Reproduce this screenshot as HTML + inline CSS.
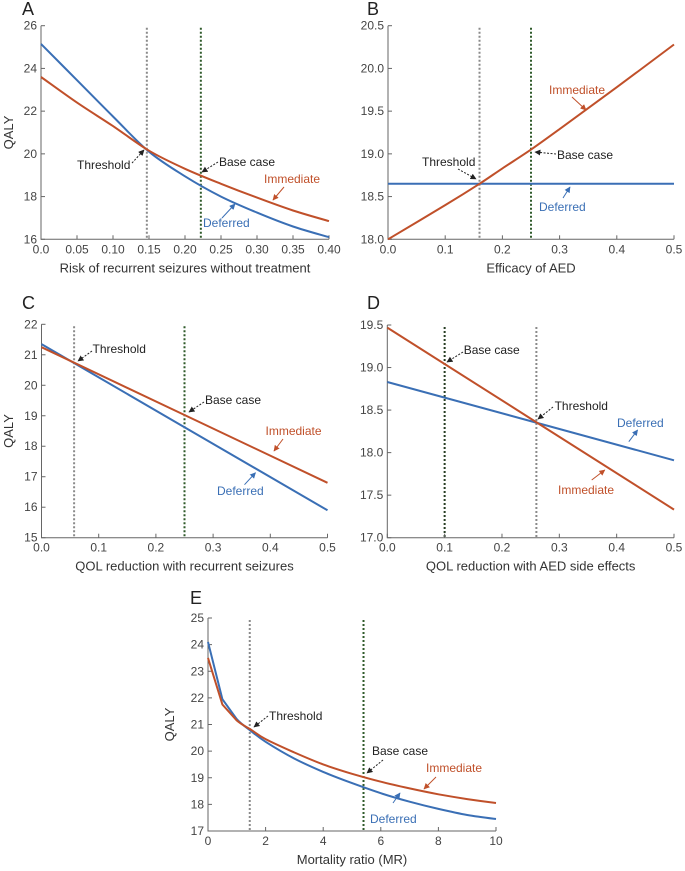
<!DOCTYPE html>
<html><head><meta charset="utf-8"><style>
html,body{margin:0;padding:0;background:#fff}
svg{display:block;font-family:"Liberation Sans",sans-serif}
</style></head><body>
<svg id="fig" width="685" height="871" viewBox="0 0 685 871" xmlns="http://www.w3.org/2000/svg">
<defs>
<marker id="ak" viewBox="0 0 10 10" refX="9" refY="5" markerWidth="6" markerHeight="6" orient="auto"><path d="M0,0L10,5L0,10z" fill="#222"/></marker>
<marker id="ar" viewBox="0 0 10 10" refX="9" refY="5" markerWidth="6" markerHeight="6" orient="auto"><path d="M0,0L10,5L0,10z" fill="#c0502a"/></marker>
<marker id="ab" viewBox="0 0 10 10" refX="9" refY="5" markerWidth="6" markerHeight="6" orient="auto"><path d="M0,0L10,5L0,10z" fill="#3a6fb5"/></marker>
</defs>
</svg>
<script>
// Panel A
const aX = [0,0.05,0.10,0.15,0.20,0.25,0.30,0.35,0.40];
const aDeferred = [25.15,23.45,21.75,20.1,18.95,18.0,17.25,16.6,16.1];
const aImmediate = [23.6,22.4,21.3,20.15,19.3,18.6,17.95,17.35,16.85];
const aXTicks = ["0.0","0.05","0.10","0.15","0.20","0.25","0.30","0.35","0.40"];
const aYTicks = ["16","18","20","22","24","26"];
// Panel B
const bX = [0,0.1,0.16,0.2,0.25,0.3,0.4,0.5];
const bImmediate = [18.0,18.4,18.65,18.83,19.05,19.29,19.78,20.28];
const bDeferred = [18.65,18.65,18.65,18.65,18.65,18.65,18.65,18.65];
const bXTicks = ["0.0","0.1","0.2","0.3","0.4","0.5"];
const bYTicks = ["18.0","18.5","19.0","19.5","20.0","20.5"];
// Panel C
const cX = [0,0.5];
const cDeferred = [21.35,15.9];
const cImmediate = [21.25,16.8];
const cXTicks = ["0.0","0.1","0.2","0.3","0.4","0.5"];
const cYTicks = ["15","16","17","18","19","20","21","22"];
// Panel D
const dX = [0,0.5];
const dDeferred = [18.83,17.91];
const dImmediate = [19.47,17.33];
const dXTicks = ["0.0","0.1","0.2","0.3","0.4","0.5"];
const dYTicks = ["17.0","17.5","18.0","18.5","19.0","19.5"];
// Panel E
const eX = [0,0.5,1,1.5,2,3,4,5,6,7,8,9,10];
const eDeferred = [24.1,21.95,21.2,20.75,20.35,19.72,19.22,18.8,18.42,18.1,17.83,17.6,17.45];
const eImmediate = [23.5,21.75,21.15,20.8,20.45,19.95,19.5,19.15,18.85,18.6,18.38,18.2,18.05];
const eXTicks = ["0","2","4","6","8","10"];
const eYTicks = ["17","18","19","20","21","22","23","24","25"];

const NS="http://www.w3.org/2000/svg";
const svg=document.getElementById('fig');
const BLUE="#3a6fb5", RED="#c0502a";
function mk(tag,attrs,parent){const e=document.createElementNS(NS,tag);for(const k in attrs)e.setAttribute(k,attrs[k]);(parent||svg).appendChild(e);return e;}
function smooth(pts,sharpFirst){
  let d='M'+pts[0][0].toFixed(1)+','+pts[0][1].toFixed(1);
  for(let i=0;i<pts.length-1;i++){
    const p0=pts[Math.max(0,i-1)],p1=pts[i],p2=pts[i+1],p3=pts[Math.min(pts.length-1,i+2)];
    let t=0.5/3;
    if(sharpFirst&&(i===0||i===1)){ d+='L'+p2[0].toFixed(1)+','+p2[1].toFixed(1); continue; }
    const c1=[p1[0]+(p2[0]-p0[0])*t*(i===0?1:1),p1[1]+(p2[1]-p0[1])*t];
    const c2=[p2[0]-(p3[0]-p1[0])*t,p2[1]-(p3[1]-p1[1])*t];
    d+='C'+c1[0].toFixed(1)+','+c1[1].toFixed(1)+' '+c2[0].toFixed(1)+','+c2[1].toFixed(1)+' '+p2[0].toFixed(1)+','+p2[1].toFixed(1);
  }
  return d;
}
function panel(p){
  const g=mk('g',{});
  
  
  const sx=v=>p.l+(v-p.x0)/(p.x1-p.x0)*(p.r-p.l);
  const sy=v=>p.b-(v-p.y0)/(p.y1-p.y0)*(p.b-p.t);
  p.vlines.forEach(v=>{
    const ln=mk('line',{x1:sx(v.x),x2:sx(v.x),y1:p.t+2,y2:p.b,stroke:v.c,'stroke-width':2,'stroke-dasharray':'2,2'},g);
    
    
  });
  const ax=mk('path',{d:`M${p.l},${p.t}V${p.b}H${p.r}`,fill:'none',stroke:'#666','stroke-width':1},g);
  
  
  p.xticks.forEach(t=>{
    const v=parseFloat(t);
    mk('line',{x1:sx(v),x2:sx(v),y1:p.b,y2:p.b-4,stroke:'#666'},g);
    const tx=mk('text',{x:sx(v),y:p.b+14,'text-anchor':'middle','font-size':12,fill:'#444'},g);
    tx.textContent=t;
    
    
  });
  p.yticks.forEach(t=>{
    const v=parseFloat(t);
    mk('line',{x1:p.l,x2:p.l+4,y1:sy(v),y2:sy(v),stroke:'#666'},g);
    const tx=mk('text',{x:p.l-4,y:sy(v)+4,'text-anchor':'end','font-size':12,fill:'#444'},g);
    tx.textContent=t;
    
    
  });
  [[p.xs,p.def,BLUE,'deferred-line'],[p.xs,p.imm,RED,'immediate-line']].forEach(s=>{
    const pts=s[0].map((x,i)=>[sx(x),sy(s[1][i])]);
    const pa=mk('path',{d:smooth(pts,p.sharp),fill:'none',stroke:s[2],'stroke-width':2},g);
    
    
  });
  const xl=mk('text',{x:(p.l+p.r)/2,y:p.b+33,'text-anchor':'middle','font-size':13,fill:'#333'},g);
  xl.textContent=p.xlabel;
  
  
  if(p.ylabelX){
    const yl=mk('text',{x:p.ylabelX,y:(p.t+p.b)/2,'text-anchor':'middle','font-size':13,fill:'#333',transform:`rotate(-90 ${p.ylabelX} ${(p.t+p.b)/2})`},g);
    yl.textContent='QALY';
    
    
  }
  const pl=mk('text',{x:p.letter[0],y:p.letter[1],'font-size':18,fill:'#222'},g);
  pl.textContent=p.id;
  
  
  p.ann.forEach(a=>{
    const col=a.k==='r'?RED:a.k==='b'?BLUE:'#222';
    const t=mk('text',{x:a.tx,y:a.ty,'font-size':12,fill:col},g);
    t.textContent=a.t;
    
    
    const ar=mk('line',{x1:a.a[0],y1:a.a[1],x2:a.a[2],y2:a.a[3],stroke:col,'stroke-width':1,'stroke-dasharray':a.k==='k'?'2,1.5':'none','marker-end':'url(#a'+a.k+')'},g);
    
    
  });
}
const GREY="#8a8a8a", GREEN="#2f5a2a";
panel({id:'A',l:41,r:329,t:25.7,b:239.3,x0:0,x1:0.4,y0:16,y1:26,xs:aX,def:aDeferred,imm:aImmediate,xticks:aXTicks,yticks:aYTicks,
  xlabel:'Risk of recurrent seizures without treatment',ylabelX:13,letter:[22,15],
  vlines:[{x:0.147,c:GREY,n:'threshold-line'},{x:0.222,c:GREEN,n:'base-case-line'}],
  ann:[{t:'Threshold',k:'k',tx:77,ty:169,a:[132,163,144,150]},{t:'Base case',k:'k',tx:219,ty:166,a:[218,162,202,172]},
       {t:'Immediate',k:'r',tx:264,ty:183,a:[284,187,273,200]},{t:'Deferred',k:'b',tx:203,ty:227,a:[222,218,235,204]}]});
panel({id:'B',l:388,r:674,t:25.7,b:239.3,x0:0,x1:0.5,y0:18,y1:20.5,xs:bX,def:bDeferred,imm:bImmediate,xticks:bXTicks,yticks:bYTicks,
  xlabel:'Efficacy of AED',ylabelX:0,letter:[367,15],
  vlines:[{x:0.16,c:GREY,n:'threshold-line'},{x:0.25,c:GREEN,n:'base-case-line'}],
  ann:[{t:'Threshold',k:'k',tx:422,ty:166,a:[458,169,476,179]},{t:'Base case',k:'k',tx:557,ty:159,a:[556,154,535,152]},
       {t:'Immediate',k:'r',tx:549,ty:94,a:[572,97,586,110]},{t:'Deferred',k:'b',tx:539,ty:211,a:[563,198,570,187]}]});
panel({id:'C',l:41.5,r:327.5,t:324.3,b:537.7,x0:0,x1:0.5,y0:15,y1:22,xs:cX,def:cDeferred,imm:cImmediate,xticks:cXTicks,yticks:cYTicks,
  xlabel:'QOL reduction with recurrent seizures',ylabelX:13,letter:[22,309],
  vlines:[{x:0.057,c:GREY,n:'threshold-line'},{x:0.25,c:GREEN,n:'base-case-line'}],
  ann:[{t:'Threshold',k:'k',tx:92.5,ty:353,a:[92,351,78,361]},{t:'Base case',k:'k',tx:205,ty:404,a:[204,402,189,412]},
       {t:'Immediate',k:'r',tx:265.5,ty:435,a:[283,439,274,451]},{t:'Deferred',k:'b',tx:217,ty:495,a:[244.5,484.7,255.5,472.7]}]});
panel({id:'D',l:387.3,r:674,t:325,b:537.7,x0:0,x1:0.5,y0:17,y1:19.5,xs:dX,def:dDeferred,imm:dImmediate,xticks:dXTicks,yticks:dYTicks,
  xlabel:'QOL reduction with AED side effects',ylabelX:0,letter:[367,309],
  vlines:[{x:0.1,c:"#263c22",n:'base-case-line'},{x:0.26,c:GREY,n:'threshold-line'}],
  ann:[{t:'Base case',k:'k',tx:463.7,ty:354,a:[463,352,447,362]},{t:'Threshold',k:'k',tx:554.6,ty:410,a:[553,407,538,419]},
       {t:'Deferred',k:'b',tx:617,ty:427,a:[628.8,441.7,637.6,430]},{t:'Immediate',k:'r',tx:558,ty:494,a:[591.7,480,604.8,470]}]});
panel({id:'E',l:208,r:496,t:618,b:831,x0:0,x1:10,y0:17,y1:25,xs:eX,def:eDeferred,imm:eImmediate,xticks:eXTicks,yticks:eYTicks,sharp:true,
  xlabel:'Mortality ratio (MR)',ylabelX:174,letter:[190,604],
  vlines:[{x:1.45,c:GREY,n:'threshold-line'},{x:5.4,c:GREEN,n:'base-case-line'}],
  ann:[{t:'Threshold',k:'k',tx:269,ty:720,a:[268,716,254,727]},{t:'Base case',k:'k',tx:372,ty:755,a:[383,760,367,773]},
       {t:'Immediate',k:'r',tx:426,ty:772,a:[436,777,424,789]},{t:'Deferred',k:'b',tx:370,ty:823,a:[393,803,400,793]}]});
</script>
</body></html>
